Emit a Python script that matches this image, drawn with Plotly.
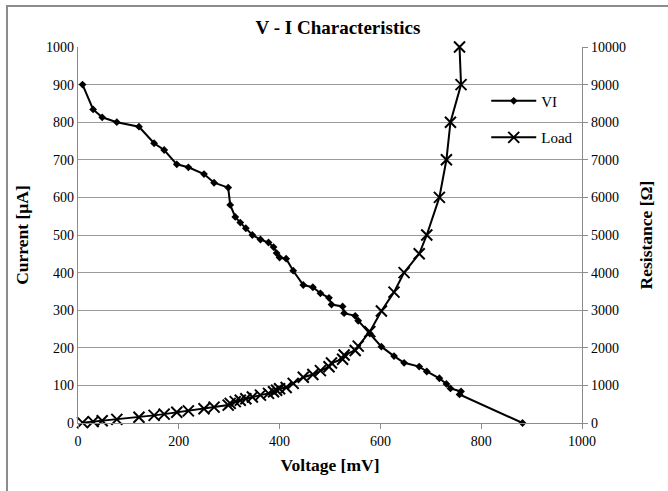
import plotly.graph_objects as go

# VI curve: voltage (mV) vs current (uA)
vi_voltage = [9, 30, 48, 77, 121, 151, 171, 196, 219, 250, 270, 298, 302, 312, 322, 333,
              346, 362, 378, 388, 394, 400, 413, 427, 447, 466, 481, 498, 503, 525, 528,
              550, 556, 579, 602, 627, 647, 677, 692, 717, 731, 739, 760, 757, 882]
vi_current = [900, 834, 813, 800, 788, 744, 726, 688, 680, 662, 639, 626, 580, 548, 533, 518,
              500, 488, 480, 468, 452, 440, 437, 405, 367, 361, 345, 333, 315, 310, 292,
              285, 272, 238, 203, 178, 160, 150, 137, 119, 104, 92, 84, 76, 0]

# Load curve: voltage (mV) vs resistance (ohm)
load_voltage = [9, 30, 48, 77, 121, 151, 171, 196, 219, 250, 270, 298, 302, 312, 322, 333,
                346, 362, 378, 388, 394, 400, 413, 427, 447, 466, 481, 498, 503, 525, 528,
                550, 556, 579, 602, 627, 647, 677, 692, 717, 731, 739, 760, 757]
load_resistance = [10, 36, 59, 96, 154, 203, 236, 285, 322, 378, 422, 476, 521, 569, 604, 643,
                   692, 742, 788, 829, 872, 909, 945, 1054, 1218, 1291, 1394, 1495, 1597, 1694, 1808,
                   1930, 2045, 2430, 2980, 3480, 4000, 4500, 5000, 6000, 7000, 8000, 9000, 10000]

x_ticks = [0, 200, 400, 600, 800, 1000]

SERIF = "Liberation Serif, Times New Roman, serif"

fig = go.Figure()
fig.add_trace(go.Scatter(
    x=vi_voltage, y=vi_current, name="VI", mode="lines+markers",
    line=dict(color="black", width=2),
    marker=dict(symbol="diamond", size=6, color="black"),
    legendgroup="a", cliponaxis=False,
))
fig.add_trace(go.Scatter(
    x=load_voltage, y=load_resistance, name="Load", mode="lines+markers", yaxis="y2",
    line=dict(color="black", width=2),
    marker=dict(symbol="x-thin", size=11, color="black", line=dict(color="black", width=2)),
    legendgroup="b", cliponaxis=False,
))

fig.update_layout(
    width=668, height=491,
    margin=dict(l=78, r=86, t=47, b=68),
    paper_bgcolor="white", plot_bgcolor="white",
    font=dict(family=SERIF, size=14, color="black"),
    title=dict(text="<b>V - I Characteristics</b>", x=338 / 668, xanchor="center",
               y=1 - 27 / 491, yanchor="middle", font=dict(family=SERIF, size=19, color="black")),
    showlegend=True,
    legend=dict(x=0.81, y=0.9, xanchor="left", yanchor="top", bgcolor="rgba(0,0,0,0)",
                font=dict(family=SERIF, size=15), tracegroupgap=14, traceorder="grouped",
                itemwidth=45),
    xaxis=dict(range=[0, 1000], tickvals=x_ticks, showgrid=False, zeroline=False,
               showline=True, linecolor="#8c8c8c", linewidth=1.2, ticks="outside", ticklen=5,
               tickcolor="#8c8c8c",
               title=dict(text="<b>Voltage [mV]</b>", standoff=10, font=dict(family=SERIF, size=17.5))),
    yaxis=dict(range=[0, 1000], dtick=100, showgrid=True, gridcolor="#9a9a9a", gridwidth=1.2,
               zeroline=False, showline=True, linecolor="#8c8c8c", linewidth=1.2, ticks="",
               title=dict(text="<b>Current [µA]</b>", standoff=12, font=dict(family=SERIF, size=17.5))),
    yaxis2=dict(range=[0, 10000], dtick=1000, tickformat="d", overlaying="y", side="right",
                showgrid=False, zeroline=False, showline=True, linecolor="#8c8c8c", linewidth=1.2,
                ticks="outside", ticklen=5, tickcolor="#8c8c8c",
                title=dict(text="<b>Resistance [Ω]</b>", standoff=14, font=dict(family=SERIF, size=17.5))),
    shapes=[dict(type="rect", xref="paper", yref="paper",
                 x0=(7 - 78) / 504, x1=1.5, y0=-0.5, y1=(423 - 6) / 376,
                 line=dict(color="#8c8c8c", width=2), fillcolor="rgba(0,0,0,0)", layer="below")],
)

fig.write_html("out.html")
